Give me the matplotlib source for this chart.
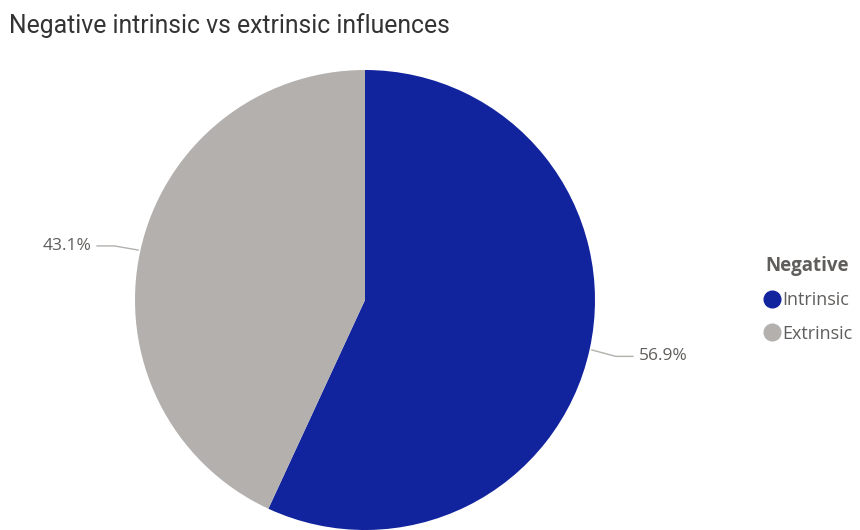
import matplotlib
matplotlib.use("Agg")
import matplotlib.pyplot as plt
from matplotlib.lines import Line2D
import numpy as np

# data
categories = ["Intrinsic", "Extrinsic"]
shares = [56.9, 43.1]
colors = ["#12239E", "#B3B0AD"]
legend_title = "Negative"
title = "Negative intrinsic vs extrinsic influences"

plt.rcParams["font.family"] = ["Open Sans", "DejaVu Sans"]

fig = plt.figure(figsize=(8.6, 5.3), dpi=100)
fig.text(9 / 860, 1 - 13 / 530, title, family=["Roboto", "DejaVu Sans"],
         fontsize=17.8, color="#333333", va="top", ha="left")

# pie box: 460 px square, centre at (365, 300) px
ax = fig.add_axes([135 / 860, 0 / 530, 460 / 860, 460 / 530])
wedges, _ = ax.pie(shares, colors=colors, startangle=90, counterclock=False,
                   radius=1, wedgeprops=dict(linewidth=0))
ax.set_xlim(-1, 1)
ax.set_ylim(-1, 1)
ax.set_aspect("auto")
ax.axis("off")

for w, val in zip(wedges, shares):
    mid = np.deg2rad((w.theta1 + w.theta2) / 2)
    x, y = np.cos(mid), np.sin(mid)
    side = np.sign(x)
    ey = y + (-0.03 if y < 0 else 0.02)
    ex = side * 1.09
    tx = side * 1.165
    ax.plot([x * 1.01, ex, tx], [y * 1.01, ey, ey], color="#B3B0AD",
            lw=1, clip_on=False)
    ax.text(tx + side * 0.025, ey, f"{val:.1f}%", fontsize=12.5, color="#605E5C",
            ha="left" if side > 0 else "right", va="center", clip_on=False)

handles = [Line2D([], [], marker="o", linestyle="none", markersize=12,
                  markerfacecolor=c, markeredgecolor=c) for c in colors]
leg = fig.legend(handles, categories, title=legend_title, loc="upper left",
                 bbox_to_anchor=(765 / 860, 1 - 256 / 530), frameon=False,
                 handlelength=0.75, handletextpad=0.2, labelspacing=0.85,
                 borderpad=0, borderaxespad=0, alignment="left", fontsize=13,
                 labelcolor="#605E5C",
                 title_fontproperties={"weight": "bold", "size": 13.5})
leg.get_title().set_color("#605E5C")

fig.savefig("out.png", dpi=100)
